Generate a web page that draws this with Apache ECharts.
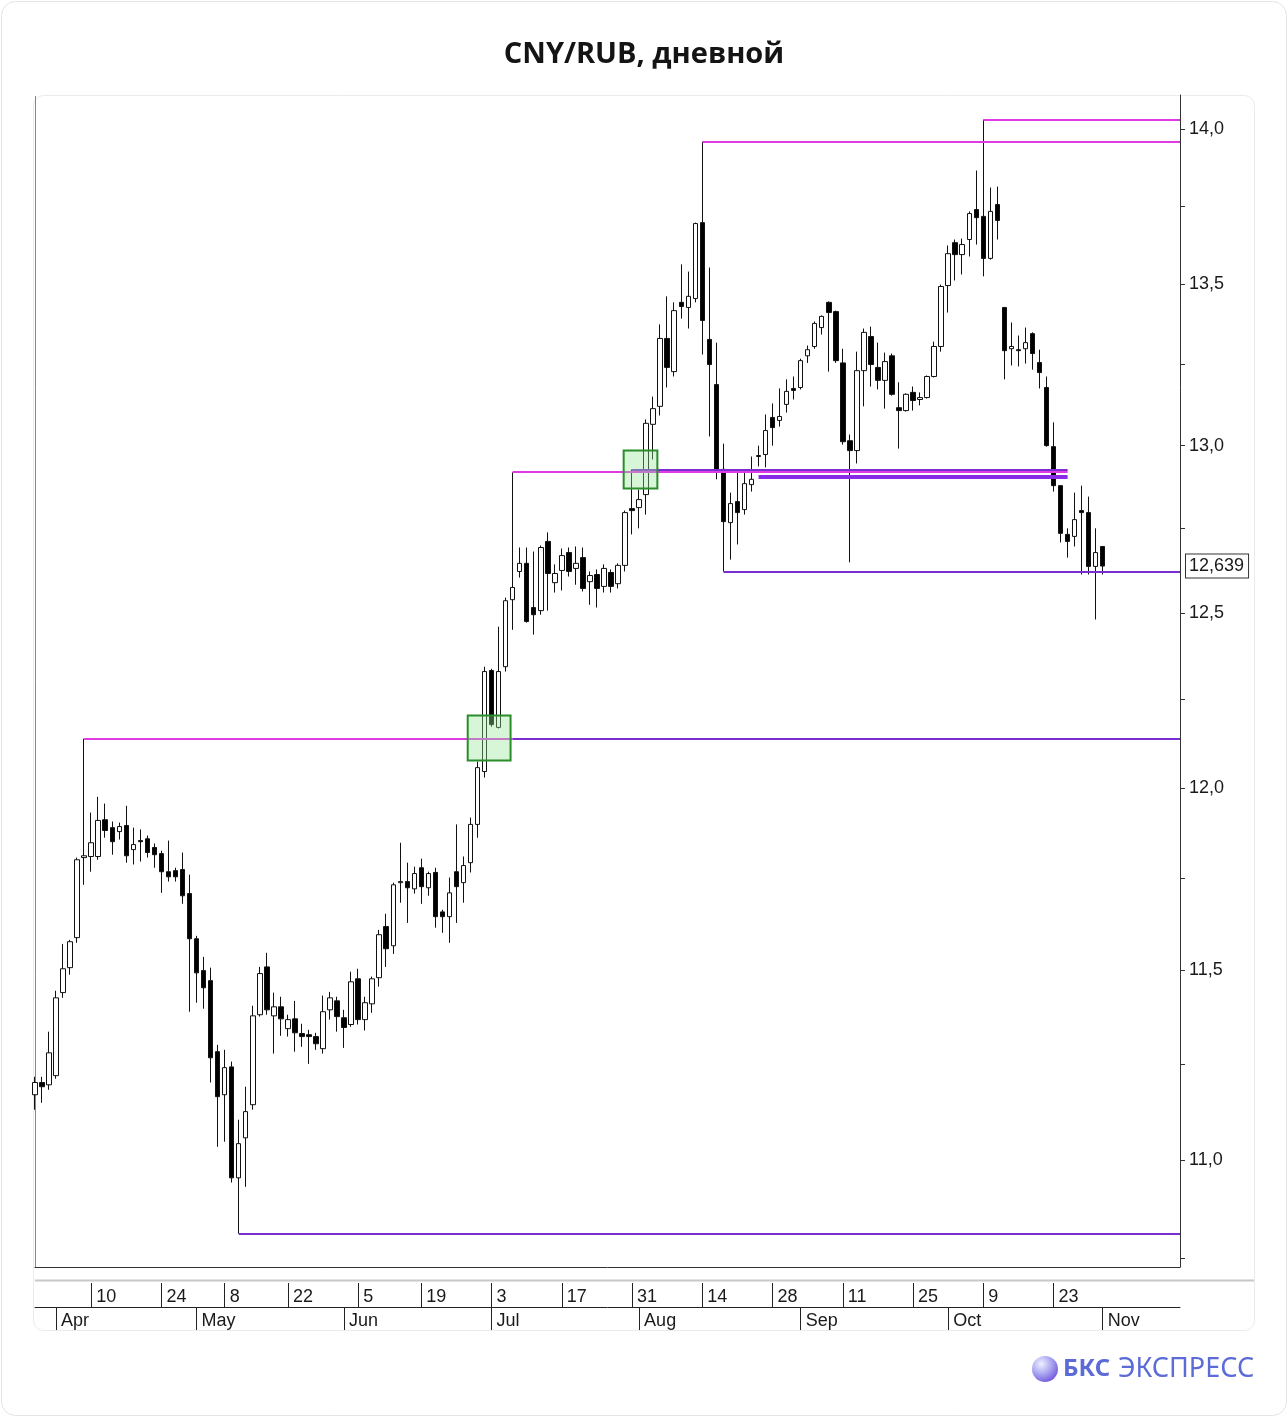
<!DOCTYPE html>
<html><head><meta charset="utf-8">
<script src="https://cdn.jsdelivr.net/npm/echarts@6/dist/echarts.min.js"></script>
<style>html,body{margin:0;padding:0;background:#fff}#c{width:1288px;height:1417px}</style>
</head><body><div id="c"></div>
<script>
// Trading days (MOEX calendar, 2023), last 11 are empty space on the right
const dates = [
'03-29','03-30','03-31',
'04-03','04-04','04-05','04-06','04-07','04-10','04-11','04-12','04-13','04-14','04-17','04-18','04-19','04-20','04-21','04-24','04-25','04-26','04-27','04-28',
'05-02','05-03','05-04','05-05','05-08','05-10','05-11','05-12','05-15','05-16','05-17','05-18','05-19','05-22','05-23','05-24','05-25','05-26','05-29','05-30','05-31',
'06-01','06-02','06-05','06-06','06-07','06-08','06-09','06-13','06-14','06-15','06-16','06-19','06-20','06-21','06-22','06-23','06-26','06-27','06-28','06-29','06-30',
'07-03','07-04','07-05','07-06','07-07','07-10','07-11','07-12','07-13','07-14','07-17','07-18','07-19','07-20','07-21','07-24','07-25','07-26','07-27','07-28','07-31',
'08-01','08-02','08-03','08-04','08-07','08-08','08-09','08-10','08-11','08-14','08-15','08-16','08-17','08-18','08-21','08-22','08-23','08-24','08-25','08-28','08-29','08-30','08-31',
'09-01','09-04','09-05','09-06','09-07','09-08','09-11','09-12','09-13','09-14','09-15','09-18','09-19','09-20','09-21','09-22','09-25','09-26','09-27','09-28','09-29',
'10-02','10-03','10-04','10-05','10-06','10-09','10-10','10-11','10-12','10-13','10-16','10-17','10-18','10-19','10-20','10-23','10-24','10-25','10-26','10-27','10-30','10-31',
'11-01','11-02','11-03','11-07','11-08','11-09','11-10','11-13','11-14','11-15','11-16','11-17'
];
// [open, high, low, close]
const candles = [
[11.169,11.216,11.130,11.201],[11.201,11.216,11.148,11.190],[11.195,11.335,11.182,11.279],
[11.219,11.444,11.211,11.425],[11.439,11.570,11.425,11.503],[11.506,11.581,11.487,11.576],[11.587,11.806,11.573,11.800],[11.806,12.139,11.731,11.811],
[11.809,11.931,11.767,11.847],[11.809,11.975,11.800,11.909],[11.911,11.956,11.861,11.881],[11.889,11.906,11.814,11.850],[11.878,11.903,11.856,11.892],
[11.895,11.950,11.792,11.811],[11.828,11.889,11.787,11.842],[11.853,11.884,11.795,11.850],[11.858,11.867,11.806,11.820],[11.834,11.845,11.778,11.814],
[11.817,11.825,11.709,11.767],[11.767,11.853,11.740,11.753],[11.770,11.778,11.740,11.753],[11.773,11.820,11.679,11.701],[11.707,11.759,11.388,11.584],
[11.584,11.592,11.412,11.492],[11.498,11.535,11.396,11.452],[11.471,11.506,11.201,11.266],[11.282,11.300,11.034,11.164],[11.169,11.287,11.047,11.240],
[11.242,11.256,10.942,10.954],[10.954,11.104,10.812,11.042],[11.057,11.190,10.931,11.125],[11.143,11.404,11.130,11.377],[11.380,11.508,11.375,11.490],
[11.508,11.546,11.380,11.393],[11.377,11.439,11.277,11.401],[11.401,11.428,11.324,11.369],[11.343,11.380,11.322,11.367],[11.369,11.417,11.282,11.332],
[11.330,11.356,11.295,11.322],[11.327,11.340,11.250,11.322],[11.322,11.332,11.287,11.303],[11.290,11.431,11.277,11.388],[11.393,11.441,11.367,11.425],
[11.417,11.428,11.335,11.375],[11.372,11.393,11.292,11.346],[11.354,11.495,11.348,11.468],[11.476,11.503,11.354,11.367],[11.367,11.428,11.338,11.412],
[11.409,11.482,11.385,11.476],[11.479,11.608,11.455,11.595],[11.617,11.652,11.508,11.557],[11.565,11.737,11.543,11.731],[11.737,11.847,11.682,11.740],
[11.740,11.792,11.627,11.723],[11.720,11.781,11.707,11.762],[11.778,11.803,11.679,11.726],[11.723,11.767,11.701,11.762],[11.765,11.778,11.614,11.644],
[11.657,11.663,11.600,11.644],[11.644,11.751,11.573,11.709],[11.767,11.898,11.627,11.726],[11.737,11.809,11.682,11.784],[11.792,11.917,11.765,11.898],
[11.898,12.074,11.861,12.057],[12.046,12.345,12.029,12.331],[12.334,12.339,12.173,12.179],[12.171,12.461,12.168,12.331],[12.345,12.546,12.331,12.537],
[12.540,12.919,12.452,12.576],[12.623,12.694,12.605,12.647],[12.647,12.694,12.473,12.476],[12.517,12.682,12.438,12.496],[12.508,12.700,12.496,12.694],
[12.712,12.739,12.508,12.617],[12.590,12.644,12.561,12.617],[12.626,12.691,12.567,12.670],[12.679,12.694,12.608,12.623],[12.632,12.697,12.584,12.647],
[12.664,12.694,12.564,12.573],[12.593,12.623,12.525,12.611],[12.614,12.629,12.517,12.573],[12.579,12.644,12.561,12.632],[12.620,12.629,12.561,12.579],
[12.587,12.647,12.573,12.641],[12.641,12.804,12.623,12.798],[12.810,12.928,12.733,12.804],[12.813,12.867,12.751,12.837],[12.852,13.080,12.792,13.068],
[13.065,13.150,12.958,13.113],[13.120,13.374,13.092,13.330],[13.330,13.462,13.178,13.240],[13.227,13.443,13.212,13.417],[13.443,13.563,13.392,13.430],
[13.427,13.540,13.361,13.462],[13.455,13.696,13.443,13.693],[13.696,13.958,13.280,13.386],[13.327,13.553,13.028,13.249],[13.187,13.317,12.898,12.922],
[12.928,13.006,12.623,12.771],[12.768,12.858,12.658,12.825],[12.831,12.928,12.703,12.798],[12.807,12.925,12.792,12.885],[12.882,12.967,12.861,12.898],
[12.967,13.000,12.937,12.970],[12.973,13.095,12.934,13.046],[13.086,13.129,13.000,13.055],[13.077,13.175,13.058,13.089],[13.126,13.203,13.101,13.166],
[13.175,13.212,13.141,13.169],[13.178,13.267,13.172,13.261],[13.276,13.308,13.254,13.295],[13.305,13.383,13.298,13.377],[13.364,13.402,13.342,13.399],
[13.443,13.446,13.227,13.411],[13.414,13.417,13.254,13.261],[13.254,13.298,13.003,13.012],[13.015,13.034,12.650,12.985],[12.985,13.289,12.946,13.230],
[13.230,13.361,13.120,13.349],[13.336,13.367,13.181,13.249],[13.240,13.317,13.172,13.200],[13.200,13.286,13.113,13.258],[13.276,13.283,13.153,13.157],
[13.116,13.194,12.991,13.107],[13.107,13.160,13.104,13.157],[13.163,13.181,13.107,13.138],[13.141,13.163,13.123,13.147],[13.147,13.215,13.144,13.212],
[13.212,13.320,13.209,13.305],[13.305,13.499,13.289,13.493],[13.496,13.623,13.411,13.597],[13.632,13.642,13.512,13.594],[13.594,13.645,13.531,13.626],
[13.642,13.732,13.588,13.725],[13.738,13.864,13.626,13.712],[13.716,14.030,13.525,13.582],[13.582,13.809,13.578,13.732],[13.754,13.812,13.642,13.703],
[13.427,13.427,13.203,13.292],[13.298,13.380,13.246,13.305],[13.295,13.339,13.243,13.292],[13.298,13.364,13.252,13.317],[13.345,13.349,13.233,13.283],
[13.255,13.295,13.175,13.224],[13.178,13.212,12.997,13.000],[12.997,13.071,12.861,12.879],[12.879,12.879,12.709,12.736],[12.733,12.751,12.664,12.712],
[12.727,12.858,12.697,12.777],[12.804,12.879,12.614,12.798],[12.798,12.846,12.614,12.638],[12.638,12.751,12.482,12.679],[12.697,12.697,12.614,12.639]
];
const dayLabels = ['04-10','04-24','05-08','05-22','06-05','06-19','07-03','07-17','07-31','08-14','08-28','09-11','09-25','10-09','10-23'];
const monthLabels = {'04-03':'Apr','05-02':'May','06-01':'Jun','07-03':'Jul','08-01':'Aug','09-01':'Sep','10-02':'Oct','11-01':'Nov'};
const yLabels = [11, 11.5, 12, 12.5, 13, 13.5, 14];
const yTicks = [10.75, 11, 11.25, 11.5, 11.75, 12, 12.25, 12.5, 12.75, 13, 13.25, 13.5, 13.75, 14];
const lastPrice = 12.639;
// horizontal levels: from date, to date, price, kind
const levels = [
  ['04-07','07-06',12.139,'mag'],
  ['07-06','11-17',12.139,'pur'],
  ['07-06','10-25',12.921,'mag'],
  ['07-31','10-25',12.928,'pur'],
  ['08-24','10-25',12.907,'purBold'],
  ['08-14','11-17',13.958,'mag'],
  ['10-09','11-17',14.030,'mag'],
  ['08-17','11-17',12.623,'pur'],
  ['05-11','11-17',10.812,'pur']
];
// highlighted zones: start/end position in trading-day units, top/bottom price
const zones = [
  [61.6, 67.7, 12.205, 12.077],
  [83.8, 88.6, 12.985, 12.870]
];

const lineStyles = {
  mag: {color:'#e03be3', width:2, type:'solid'},
  pur: {color:'#7a2ed2', width:2, type:'solid'},
  purBold: {color:'#8a2be8', width:4, type:'solid'}
};
const daySet = new Set(dayLabels);
const fmt1 = v => Number(v).toFixed(1).replace('.', ',');
const axisFont = 'Liberation Sans, Arial, sans-serif';

const chart = echarts.init(document.getElementById('c'), null, {renderer:'canvas'});
const isMark = (isDay, v) => isDay ? daySet.has(v) : (v in monthLabels);
const bottomAxis = (offset, isDay) => ({
  type:'category', data: dates, boundaryGap:false, position:'bottom', offset: offset,
  axisLine:{show: !isDay, lineStyle:{color:'#222', width:1}},
  axisTick:{show:true, length: isDay ? 24 : 23, lineStyle:{color:'#222', width:1},
    interval: (i, v) => isMark(isDay, v)},
  axisLabel:{show:true, align:'left', padding:[0,0,0,5], margin:5, fontSize:18, color:'#1a1a1a', fontFamily:axisFont,
    interval: (i, v) => isMark(isDay, v),
    formatter: v => !isMark(isDay, v) ? '' : (isDay ? String(parseInt(v.slice(3), 10)) : monthLabels[v])},
  splitLine:{show:false}, axisPointer:{show:false}
});

chart.setOption({
  animation:false,
  backgroundColor:'#fff',
  title:{text:'CNY/RUB, дневной', left:'center', top:35,
    textStyle:{fontSize:29, fontWeight:'bold', color:'#141414', fontFamily:'Open Sans, Noto Sans, sans-serif'}},
  grid:{left:35, top:95, right:108, bottom:150, outerBoundsMode:'none', containLabel:false},
  xAxis:[
    {type:'category', data: dates, boundaryGap:false, position:'bottom',
     axisLine:{show:true, lineStyle:{color:'#333', width:1}}, axisTick:{show:false}, axisLabel:{show:false}, splitLine:{show:false}},
    bottomAxis(16, true),
    bottomAxis(40, false)
  ],
  yAxis:[
    {type:'log', logBase:10, min:10.728, max:14.111, position:'right',
     axisLine:{show:true, lineStyle:{color:'#333', width:1}},
     axisTick:{show:true, customValues: yTicks, length:5, lineStyle:{color:'#333'}},
     axisLabel:{customValues: yLabels, formatter: fmt1, fontSize:18, color:'#1a1a1a', margin:9, fontFamily:axisFont},
     splitLine:{show:false}, minorTick:{show:false}, minorSplitLine:{show:false}},
    {type:'log', logBase:10, min:10.728, max:14.111, position:'right',
     axisLine:{show:false}, axisTick:{show:false}, splitLine:{show:false},
     axisLabel:{customValues:[lastPrice], formatter: v => Number(v).toFixed(3).replace('.', ','), fontSize:18, color:'#1a1a1a',
       margin:6, fontFamily:axisFont, backgroundColor:'#fff', borderColor:'#333', borderWidth:1, padding:[3,4,2,3]}}
  ],
  series:[
    {type:'candlestick', xAxisIndex:0, yAxisIndex:0, barWidth:5, clip:true,
     data: candles.map(c => [c[0], c[3], c[2], c[1]]),
     itemStyle:{color:'#ffffff', color0:'#000000', borderColor:'#111', borderColor0:'#111', borderWidth:1},
     emphasis:{disabled:true},
     markLine:{silent:true, symbol:['none','none'], animation:false, label:{show:false}, emphasis:{disabled:true},
       data: levels.map(l => [
         {coord:[dates.indexOf(l[0]), l[2]], lineStyle: lineStyles[l[3]]},
         {coord:[dates.indexOf(l[1]), l[2]]}
       ])}
    },
    {type:'custom', xAxisIndex:0, yAxisIndex:0, z:5, silent:true, clip:true,
     data: zones.map(z => [Math.floor(z[0]), z[2]]),
     renderItem: (params, api) => {
       const z = zones[params.dataIndex];
       const bw = api.size([1, 0])[0];
       const a = Math.floor(z[0]), b = Math.floor(z[1]);
       const p0 = api.coord([a, z[2]]);
       const p1 = api.coord([b, z[3]]);
       const x0 = p0[0] + (z[0] - a) * bw, x1 = p1[0] + (z[1] - b) * bw;
       return {type:'rect', shape:{x:x0, y:p0[1], width:x1 - x0, height:p1[1] - p0[1]},
         style:{fill:'rgba(150,230,150,0.38)', stroke:'#2a8c2a', lineWidth:2}};
     }
    }
  ],
  graphic:[
    {type:'rect', z:-1, silent:true, shape:{x:1.5, y:1.5, width:1285, height:1414, r:14}, style:{fill:'none', stroke:'#e4e4e4', lineWidth:1}},
    {type:'rect', z:-1, silent:true, shape:{x:33.5, y:95.5, width:1221, height:1235, r:10}, style:{fill:'none', stroke:'#ebebeb', lineWidth:1}},
    {type:'line', z:-1, silent:true, shape:{x1:35, y1:1280.5, x2:1254, y2:1280.5}, style:{stroke:'#c8c8c8', lineWidth:2}},
    {type:'line', z:1, silent:true, shape:{x1:35.5, y1:96, x2:35.5, y2:1267}, style:{stroke:'#888', lineWidth:1}},
    {type:'group', left:1032, top:1356, children:[
      {type:'circle', shape:{cx:13, cy:13, r:13}, style:{fill:{type:'radial', x:0.35, y:0.3, r:0.8,
        colorStops:[{offset:0,color:'#eef0ff'},{offset:0.5,color:'#a9a6f0'},{offset:1,color:'#6c4fd8'}]}}},
      {type:'text', x:31, y:1, style:{text:'БКС', fontSize:24, fontWeight:'bold', fill:'#5c6bd6', fontFamily:'Noto Sans, sans-serif'}},
      {type:'text', x:86, y:0, style:{text:'ЭКСПРЕСС', fontSize:27, fontWeight:'normal', fill:'#5c6bd6', fontFamily:'Noto Sans, sans-serif'}}
    ]}
  ]
});
</script></body></html>
